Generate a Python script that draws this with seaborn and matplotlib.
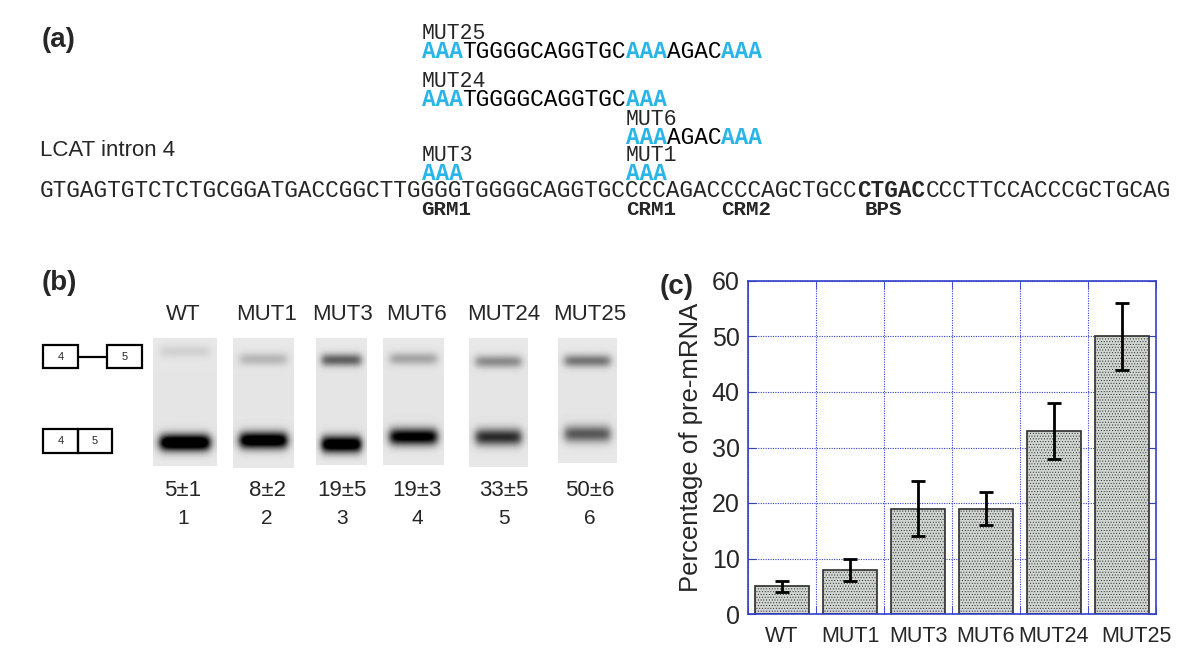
import matplotlib
matplotlib.use('Agg')
import matplotlib.pyplot as plt
from matplotlib.patches import Rectangle
from matplotlib.transforms import offset_copy
from itertools import groupby
import seaborn as sns
import numpy as np

# Valeurs
categories = ['WT', 'MUT1', 'MUT3', 'MUT6', 'MUT24', 'MUT25']
pre_mrna = [5, 8, 19, 19, 33, 50]
pre_mrna_err = [1, 2, 5, 3, 5, 6]
lane_numbers = [1, 2, 3, 4, 5, 6]

# intensite relative des bandes du gel (0 = rien, >1 = sature)
band_unspliced = [0.10, 0.22, 0.62, 0.30, 0.42, 0.52]
band_spliced = [1.35, 1.25, 1.25, 1.10, 0.82, 0.62]

# sequence de l'intron 4 de LCAT et mutants
wt_intron = 'GTGAGTGTCTCTGCGGATGACCGGCTTGGGGTGGGGCAGGTGCCCCAGACCCCAGCTGCCCTGACCCCTTCCACCCGCTGCAG'
mutants = ['MUT25', 'MUT24', 'MUT6', 'MUT3', 'MUT1']
mut_start = [28, 28, 43, 28, 43]
mut_seq = ['AAATGGGGCAGGTGCAAAAGACAAA', 'AAATGGGGCAGGTGCAAA', 'AAAAGACAAA', 'AAA', 'AAA']
elements = ['GRM1', 'CRM1', 'CRM2', 'BPS']
element_start = [28, 43, 50, 60.5]
bps_span = (60, 65)

# ---- style
sns.set_style('white')
plt.rcParams['font.family'] = ['Liberation Sans', 'DejaVu Sans']
plt.rcParams['hatch.linewidth'] = 0.4
blue = '#3340c8'
cyan = '#29b5e8'
mono = 'Liberation Mono'

fig = plt.figure(figsize=(12, 6.61), dpi=100)
ax0 = fig.add_axes([0, 0, 1, 1])   # calque en pixels pour (a) et (b)
ax0.set_xlim(0, 1200)
ax0.set_ylim(661, 0)
ax0.axis('off')

# ---------------- (a)
fs_seq = 16.4
renderer = fig.canvas.get_renderer()
t1 = ax0.text(0, 0, 'M' * 100, family=mono, fontsize=fs_seq)
t2 = ax0.text(0, 0, 'M' * 50, family=mono, fontsize=fs_seq)
cw = (t1.get_window_extent(renderer).width - t2.get_window_extent(renderer).width) / 50
t1.remove()
t2.remove()
x0 = 40
base = 6  # decalage centre -> ligne de base

def seq_text(i, s, y, size=fs_seq, **kw):
    ax0.text(x0 + i * cw, y + base, s, family=mono, fontsize=size,
             ha='left', va='baseline', **kw)

ax0.text(42, 40, '(a)', fontsize=20, fontweight='bold', va='center', ha='left')
ax0.text(40, 150, 'LCAT intron 4', fontsize=16, va='center', ha='left')

# sequence sauvage, avec le point de branchement en gras
y_main = 191
seq_text(0, wt_intron[:bps_span[0]], y_main)
seq_text(bps_span[0], wt_intron[bps_span[0]:bps_span[1]], y_main, fontweight='bold')
seq_text(bps_span[1], wt_intron[bps_span[1]:], y_main)

for name, pos in zip(elements, element_start):
    seq_text(pos, name, 209, size=15, fontweight='bold')

row_y = {'MUT25': 52, 'MUT24': 100, 'MUT6': 138, 'MUT3': 174, 'MUT1': 174}
for name, start, s in zip(mutants, mut_start, mut_seq):
    y = row_y[name]
    seq_text(start, name, y - 19, size=15.5)
    # on regroupe les lettres mutees (en bleu) et conservees (en noir)
    flags = [ch != wt_intron[start + k] for k, ch in enumerate(s)]
    k = 0
    for diff, grp in groupby(flags):
        n = len(list(grp))
        seq_text(start + k, s[k:k + n], y, color=cyan if diff else 'black',
                 fontweight='bold' if diff else 'normal')
        k += n

# ---------------- (b)
ax0.text(42, 283, '(b)', fontsize=20, fontweight='bold', va='center', ha='left')

lane_x = [(153, 217), (233, 294), (316, 367), (383, 444), (469, 528), (558, 617)]
lane_y = [(338, 466), (338, 468), (338, 465), (338, 465), (338, 467), (338, 463)]
top_pos = [0.10, 0.16, 0.17, 0.16, 0.18, 0.18]
bot_pos = [0.82, 0.79, 0.84, 0.78, 0.77, 0.77]
label_x = [183, 267, 342, 417, 504, 590]

for i in range(len(categories)):
    (xa, xb), (ya, yb) = lane_x[i], lane_y[i]
    h, w = int(yb - ya), int(xb - xa)
    v = np.linspace(0, 1, h)[:, None]
    u = np.linspace(0, 1, w)[None, :]
    prof = 1 / (1 + np.exp(-(u - 0.11) / 0.04)) / (1 + np.exp((u - 0.89) / 0.04))
    img = 0.91 - 0.015 * np.sin(np.pi * v)
    img = img - 0.85 * band_unspliced[i] * np.exp(-((v - top_pos[i]) * h) ** 2 / (2 * 4.5 ** 2)) * prof
    img = img - 0.9 * band_spliced[i] * np.exp(-((v - bot_pos[i]) * h) ** 2 / (2 * 6.0 ** 2)) * prof
    ax0.imshow(np.clip(img, 0, 1), cmap='gray', vmin=0, vmax=1, aspect='auto',
               extent=(xa, xb, yb, ya), interpolation='bilinear')
    ax0.text(label_x[i], 315, categories[i], fontsize=16, ha='center', va='center')
    ax0.text(label_x[i], 490, f'{pre_mrna[i]}\u00b1{pre_mrna_err[i]}', fontsize=16,
             ha='center', va='center')
    ax0.text(label_x[i], 518, str(lane_numbers[i]), fontsize=15, ha='center', va='center')

# schemas des exons 4 et 5
for (bx, by, bw, bh, lab) in [(43, 345, 35, 23, '4'), (107, 345, 35, 23, '5'),
                              (43, 429, 35, 24, '4'), (78, 429, 34, 24, '5')]:
    ax0.add_patch(Rectangle((bx, by), bw, bh, fill=False, edgecolor='black', lw=1.6))
    ax0.text(bx + bw / 2, by + bh / 2, lab, fontsize=8, ha='center', va='center')
ax0.plot([78, 107], [356.5, 356.5], color='black', lw=1.6)

ax0.set_xlim(0, 1200)
ax0.set_ylim(661, 0)

# ---------------- (c)
fig.text(660 / 1200, 1 - 287 / 661, '(c)', fontsize=20, fontweight='bold', va='center', ha='left')
axc = fig.add_axes([748 / 1200, 1 - 614 / 661, 408 / 1200, 333 / 661])
sns.barplot(x=categories, y=pre_mrna, color='#d0d5d2', saturation=1, width=0.8,
            edgecolor='#2e2e2e', linewidth=1.2, errorbar=None, ax=axc)
xpos = [p.get_x() + p.get_width() / 2 for p in axc.patches]
for p in axc.patches:
    p.set_hatch('......')
    if hasattr(p, 'set_hatchcolor'):
        p.set_hatchcolor('#bcc3bf')
axc.errorbar(xpos, pre_mrna, yerr=pre_mrna_err, fmt='none', ecolor='black',
             elinewidth=2, capsize=5, capthick=2, zorder=5)

axc.set_xlim(-0.5, 5.5)
axc.set_ylim(0, 60)
axc.set_yticks([0, 10, 20, 30, 40, 50, 60])
axc.set_xticks(np.arange(-0.5, 6, 1), minor=True)
axc.set_axisbelow(True)
axc.grid(True, which='major', axis='y', color=blue, linestyle=(0, (1, 1.2)), lw=0.8)
axc.grid(True, which='minor', axis='x', color=blue, linestyle=(0, (1, 1.2)), lw=0.8)
axc.tick_params(axis='y', which='major', direction='in', length=6, color=blue,
                left=True, right=True, labelsize=18, pad=6)
axc.tick_params(axis='x', which='major', length=0, labelsize=15.5, pad=9)
axc.tick_params(axis='x', which='minor', direction='in', length=6, color=blue,
                bottom=True, top=True)
for s in axc.spines.values():
    s.set_color(blue)
    s.set_linewidth(1.2)
axc.set_ylabel('Percentage of pre-mRNA', fontsize=18.5, labelpad=6)
axc.set_xlabel('')
# la derniere etiquette est decalee vers la droite dans l'original
last = axc.get_xticklabels()[-1]
last.set_transform(offset_copy(last.get_transform(), fig=fig, x=14, units='dots'))

fig.savefig('out.png', dpi=100)
